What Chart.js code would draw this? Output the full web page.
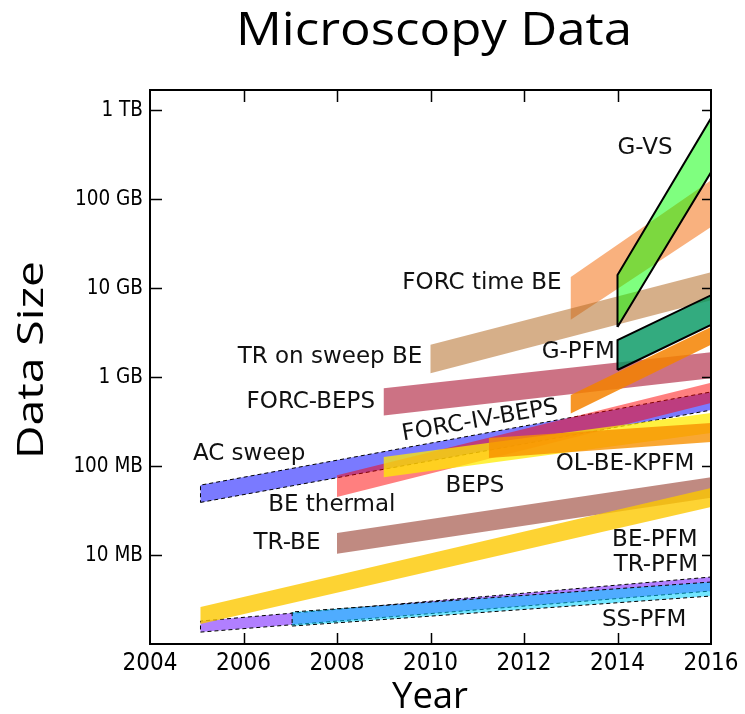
<!DOCTYPE html>
<html>
<head>
<meta charset="utf-8">
<title>Microscopy Data</title>
<script src="https://cdn.jsdelivr.net/npm/chart.js@4.4.1/dist/chart.umd.min.js"></script>
<style>
    html, body { margin: 0; padding: 0; background: #fff; }
    #wrap { width: 745px; height: 714px; }
</style>
</head>
<body>
<div id="wrap"><canvas id="chart" width="745" height="714"></canvas></div>
<script>
// Each band runs from its start year to 2016; sizes in bytes (low / high edge)
const bandNames = ['FORC time BE', 'TR on sweep BE', 'G-VS', 'FORC-BEPS', 'FORC-IV-BEPS', 'G-PFM',
    'AC sweep', 'BE thermal', 'BEPS', 'OL-BE-KPFM', 'TR-BE', 'TR-PFM', 'SS-PFM', 'BE-PFM'];
const bandStart = [2013, 2010, 2014, 2009, 2013, 2014, 2005.08, 2008, 2009, 2011.25, 2008, 2005.08, 2007.04, 2005.08];
const startLow  = [4.4e9, 1.1e9, 3.65e9, 3.7e8, 3.9e8, 1.2e9, 3.9e7, 4.5e7, 7.5e7, 1.23e8, 1.03e7, 1.36e6, 1.59e6, 1.68e6];
const startHigh = [1.33e10, 2.3e9, 1.4e10, 7.5e8, 6.3e8, 2.6e9, 6.1e7, 7.9e7, 1.26e8, 2.06e8, 1.77e7, 1.81e6, 2.29e6, 2.6e6];
const endLow    = [4.85e10, 7.3e9, 2.0e11, 9.7e8, 2.3e9, 3.85e9, 4.25e8, 5.1e8, 2.35e8, 1.86e8, 4.4e7, 3.94e6, 3.46e6, 3.46e7];
const endHigh   = [1.63e11, 1.5e10, 8.1e11, 1.9e9, 3.65e9, 8.3e9, 6.8e8, 8.6e8, 3.94e8, 3.04e8, 7.5e7, 5.66e6, 4.97e6, 5.66e7];
const endYear = 2016;

const yearTicks = [2004, 2006, 2008, 2010, 2012, 2014, 2016];
const sizeTicks = [1e7, 1e8, 1e9, 1e10, 1e11, 1e12];
const sizeLabels = ['10 MB', '100 MB', '1 GB', '10 GB', '100 GB', '1 TB'];

// Text labels placed in data space
const labelText  = ['G-VS', 'FORC time BE', 'TR on sweep BE', 'G-PFM', 'FORC-BEPS', 'FORC-IV-BEPS', 'AC sweep',
    'BE thermal', 'BEPS', 'OL-BE-KPFM', 'TR-BE', 'BE-PFM', 'TR-PFM', 'SS-PFM'];
const labelYear  = [2014.59, 2011.10, 2007.85, 2013.16, 2007.44, 2011.06, 2006.12, 2007.89, 2010.95, 2014.16, 2006.93, 2014.80, 2014.82, 2014.57];
const labelSize  = [3.74e11, 1.14e10, 1.68e9, 1.91e9, 5.24e8, 3.21e8, 1.37e8, 3.65e7, 5.96e7, 1.05e8, 1.36e7, 1.48e7, 7.73e6, 1.86e6];
const labelAngle = [0, 0, 0, 0, 0, -10, 0, 0, 0, 0, 0, 0, 0, 0];

// Styles
const bandFill = [
    'rgba(245,125,40,0.6)',   // FORC time BE
    'rgba(180,110,40,0.55)',  // TR on sweep BE
    'rgba(0,255,0,0.5)',      // G-VS
    'rgba(170,20,50,0.6)',    // FORC-BEPS
    'rgba(245,130,0,0.85)',   // FORC-IV-BEPS
    'rgba(0,150,95,0.8)',     // G-PFM
    'rgba(0,0,255,0.52)',     // AC sweep
    'rgba(255,0,0,0.5)',      // BE thermal
    'rgba(255,235,0,0.75)',   // BEPS
    'rgba(248,145,0,0.8)',    // OL-BE-KPFM
    'rgba(150,60,45,0.6)',    // TR-BE
    'rgba(100,0,255,0.5)',    // TR-PFM
    'rgba(0,210,255,0.55)',   // SS-PFM
    'rgba(252,200,0,0.8)'     // BE-PFM
];
const bandEdge = ['none', 'none', 'solid', 'none', 'none', 'solid', 'dash', 'none', 'none', 'none', 'none', 'dash', 'dash', 'none'];

const tickFont = '"DejaVu Sans Condensed", "Liberation Sans Narrow", "Liberation Sans", sans-serif';

const datasets = bandNames.map((name, i) => ({
    label: name,
    data: [
        { x: bandStart[i], y: startLow[i] },
        { x: endYear, y: endLow[i] },
        { x: endYear, y: endHigh[i] },
        { x: bandStart[i], y: startHigh[i] },
        { x: bandStart[i], y: startLow[i] }
    ],
    showLine: true,
    fill: 'shape',
    backgroundColor: bandFill[i],
    borderColor: '#000',
    borderWidth: bandEdge[i] === 'solid' ? 2 : (bandEdge[i] === 'dash' ? 1 : 0),
    borderDash: bandEdge[i] === 'dash' ? [4, 3] : [],
    pointRadius: 0,
    pointHoverRadius: 0,
    tension: 0,
    order: bandNames.length - i
}));

// draw text stretched/squeezed to a target width (the original uses a wide geometric face)
function fittedText(ctx, text, cx, cy, width) {
    const w = ctx.measureText(text).width;
    ctx.save();
    ctx.translate(cx, cy);
    ctx.scale(width / w, 1);
    ctx.fillText(text, 0, 0);
    ctx.restore();
}

// Frame, inward ticks, tick labels, annotations and titles
const decor = {
    id: 'decor',
    afterDraw(chart) {
        const { ctx, chartArea: a, scales: { x, y } } = chart;
        ctx.save();
        ctx.strokeStyle = '#000';
        ctx.lineWidth = 2;
        ctx.strokeRect(a.left, a.top, a.right - a.left, a.bottom - a.top);

        ctx.lineWidth = 1.5;
        ctx.beginPath();
        yearTicks.slice(1, -1).forEach(v => {
            const px = Math.round(x.getPixelForValue(v)) + 0.5;
            ctx.moveTo(px, a.bottom); ctx.lineTo(px, a.bottom - 11);
            ctx.moveTo(px, a.top); ctx.lineTo(px, a.top + 12);
        });
        sizeTicks.forEach(v => {
            const py = Math.round(y.getPixelForValue(v)) + 0.5;
            ctx.moveTo(a.left, py); ctx.lineTo(a.left + 12, py);
            ctx.moveTo(a.right, py); ctx.lineTo(a.right - 9, py);
        });
        ctx.stroke();

        // tick labels
        ctx.fillStyle = '#000';
        ctx.font = '24px ' + tickFont;
        ctx.textAlign = 'center';
        ctx.textBaseline = 'top';
        yearTicks.forEach(v => ctx.fillText(String(v), x.getPixelForValue(v), a.bottom + 8));
        ctx.font = '20.5px ' + tickFont;
        ctx.textAlign = 'right';
        ctx.textBaseline = 'middle';
        sizeTicks.forEach((v, i) => ctx.fillText(sizeLabels[i], a.left - 7, y.getPixelForValue(v) + 1));

        // band annotations
        ctx.fillStyle = '#111';
        ctx.font = '23px "DejaVu Sans"';
        ctx.textAlign = 'center';
        labelText.forEach((t, i) => {
            ctx.save();
            ctx.translate(x.getPixelForValue(labelYear[i]), y.getPixelForValue(labelSize[i]));
            ctx.rotate(labelAngle[i] * Math.PI / 180);
            ctx.fillText(t, 0, 0);
            ctx.restore();
        });

        // titles
        ctx.fillStyle = '#000';
        ctx.font = '45px "Open Sans"';
        fittedText(ctx, 'Microscopy Data', 434, 32, 396);

        ctx.font = '37px "Open Sans"';
        fittedText(ctx, 'Year', 430, 697, 76);
        ctx.save();
        ctx.translate(32, 360);
        ctx.rotate(-Math.PI / 2);
        fittedText(ctx, 'Data Size', 0, 0, 198);
        ctx.restore();
        ctx.restore();
    }
};

new Chart(document.getElementById('chart'), {
    type: 'scatter',
    data: { datasets },
    options: {
        responsive: false,
        animation: false,
        devicePixelRatio: 1,
        layout: { padding: { top: 90, right: 34, left: 0, bottom: 0 } },
        plugins: {
            legend: { display: false },
            tooltip: { enabled: false }
        },
        scales: {
            x: {
                type: 'linear',
                min: 2004,
                max: 2016,
                afterFit: s => { s.height = 70; },
                afterBuildTicks: s => { s.ticks = yearTicks.map(v => ({ value: v })); },
                grid: { display: false, drawTicks: false },
                border: { display: false },
                ticks: { display: false }
            },
            y: {
                type: 'logarithmic',
                min: 1e6,
                max: 1.68e12,
                afterFit: s => { s.width = 150; },
                afterBuildTicks: s => { s.ticks = sizeTicks.map(v => ({ value: v })); },
                grid: { display: false, drawTicks: false },
                border: { display: false },
                ticks: { display: false }
            }
        }
    },
    plugins: [decor]
});
</script>
</body>
</html>
